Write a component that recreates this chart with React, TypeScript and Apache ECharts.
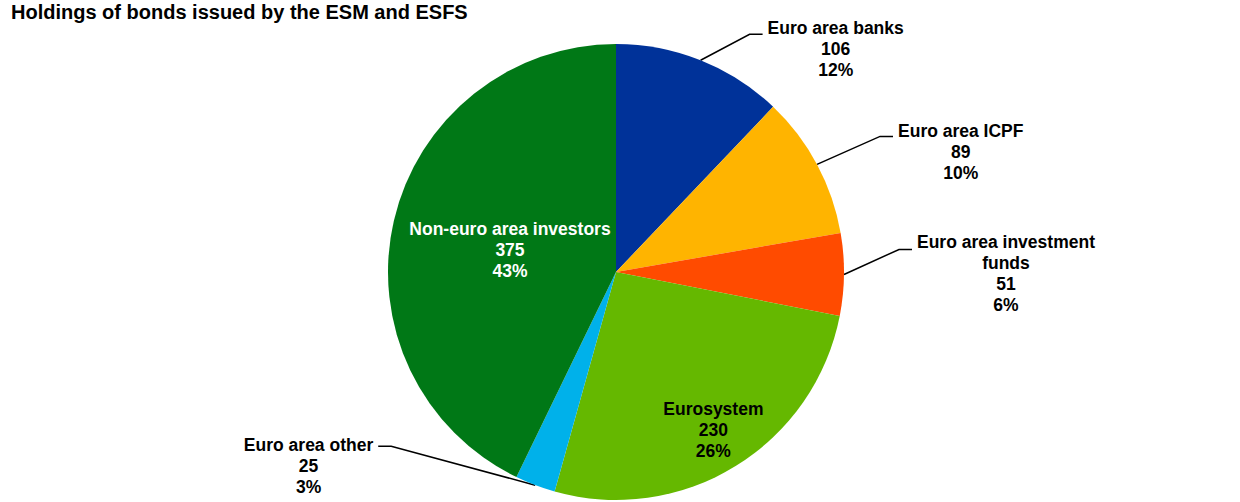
import React, { useEffect, useRef } from "react";
import * as echarts from "echarts";

// ---- data ----
const titleText = "Holdings of bonds issued by the ESM and ESFS";
const categories = [
  "Euro area banks",
  "Euro area ICPF",
  "Euro area investment funds",
  "Eurosystem",
  "Euro area other",
  "Non-euro area investors",
];
const labelNames = [
  "Euro area banks",
  "Euro area ICPF",
  "Euro area investment\nfunds",
  "Eurosystem",
  "Euro area other",
  "Non-euro area investors",
];
const values = [106, 89, 51, 230, 25, 375];

// ---- styles ----
const colors = ["#003299", "#FFB400", "#FF4B00", "#65B800", "#00B1EA", "#007816"];
const labelInside = [false, false, false, true, false, true];
const labelWhite = [false, false, false, false, false, true];
// label offsets: outside -> from the slice-edge anchor; inside -> from default label centre
const labelShift: number[][] = [
  [62, -26],
  [76, -28],
  [68, -25],
  [36, 58],
  [-157, -39],
  [8, 4],
];
const labelPadTop = [30, 32, 49, 0, 40, 0];

const FONT = "'Liberation Sans', Arial, Helvetica, sans-serif";

export default function App() {
  const ref = useRef<HTMLDivElement>(null);

  useEffect(() => {
    document.body.style.margin = "0";
    if (!ref.current) return;
    const chart = echarts.init(ref.current, null, { renderer: "svg" });

    const richBase = {
      fontFamily: FONT,
      fontSize: 17.5,
      fontWeight: "bold",
      lineHeight: 21,
      align: "center",
    };

    chart.setOption({
      animation: false,
      title: {
        text: titleText,
        left: 11,
        top: 2,
        padding: 0,
        textStyle: { fontFamily: FONT, fontSize: 20, fontWeight: "bold", color: "#000" },
      },
      series: [
        {
          type: "pie",
          center: [616, 272],
          radius: 228,
          startAngle: 90,
          clockwise: true,
          avoidLabelOverlap: false,
          percentPrecision: 0,
          emphasis: { disabled: true },
          itemStyle: { borderWidth: 0 },
          label: {
            show: true,
            alignTo: "none",
            distanceToLabelLine: 0,
            backgroundColor: "rgba(0,0,0,0)",
            formatter: (p: any) => {
              const i = p.dataIndex;
              const s = labelWhite[i] ? "w" : "k";
              return [labelNames[i], String(p.value), Math.round(p.percent) + "%"]
                .map((t) => `{${s}|${t}}`)
                .join("\n");
            },
            rich: {
              k: { ...richBase, color: "#000" },
              w: { ...richBase, color: "#fff" },
            },
          },
          labelLine: {
            show: true,
            length: 15,
            length2: 13,
            lineStyle: { color: "#000", width: 1.5 },
          },
          labelLayout: (p: any) => {
            const i = p.dataIndex;
            const [ox, oy] = labelShift[i];
            const r = p.labelRect;
            if (labelInside[i] || !p.labelLinePoints) {
              return { x: r.x + r.width / 2 + ox, y: r.y + r.height / 2 + oy };
            }
            const a = p.labelLinePoints[0];
            return { x: a[0] + ox, y: a[1] + oy };
          },
          data: values.map((v, i) => ({
            name: categories[i],
            value: v,
            itemStyle: { color: colors[i] },
            label: {
              position: labelInside[i] ? "inside" : "outside",
              padding: [labelPadTop[i], 5, 0, 5],
            },
            labelLine: { show: !labelInside[i] },
          })),
        },
      ],
    });

    return () => chart.dispose();
  }, []);

  return <div ref={ref} style={{ width: 1240, height: 502 }} />;
}
